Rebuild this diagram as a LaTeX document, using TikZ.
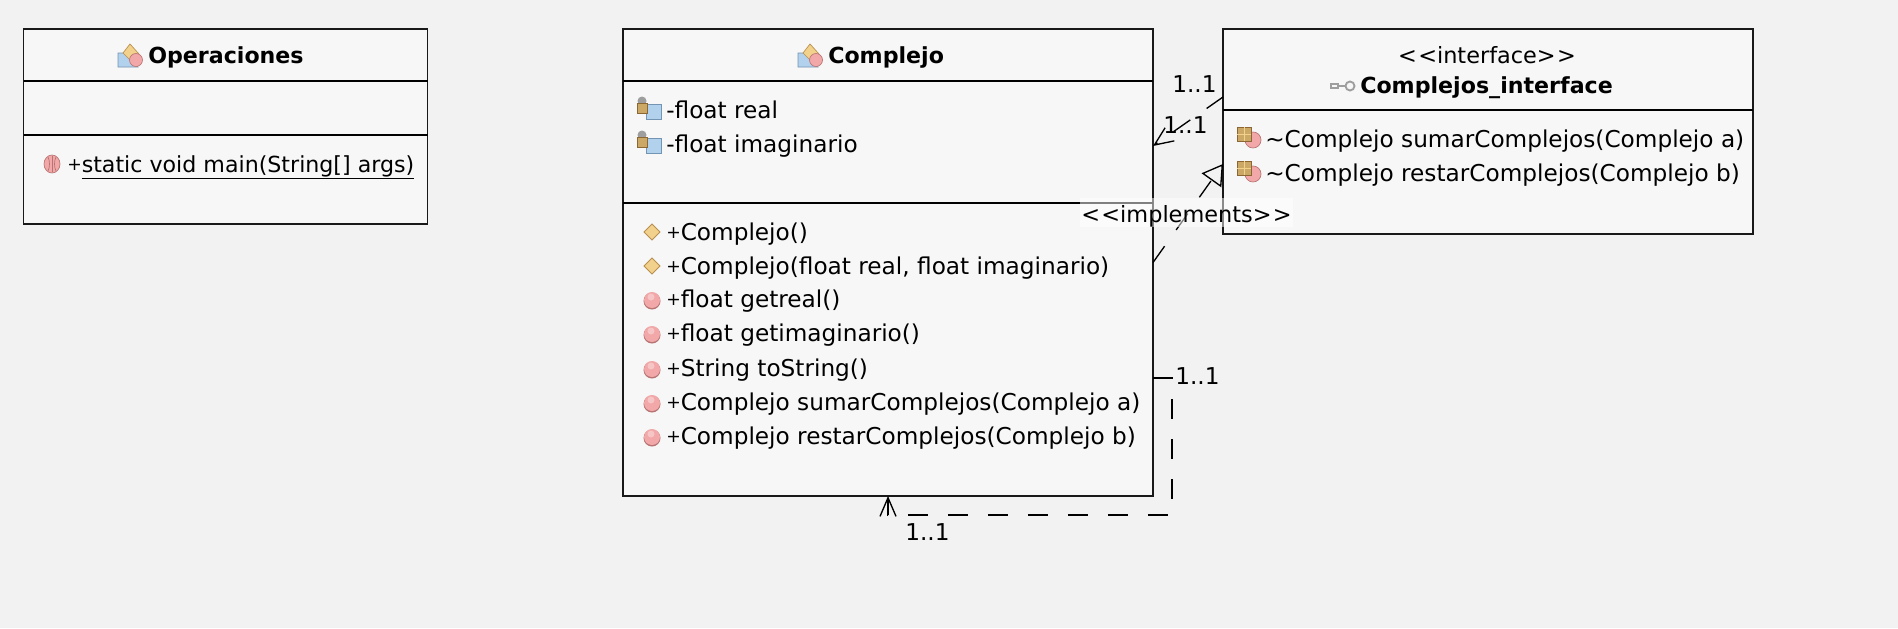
\documentclass[tikz,border=0pt]{standalone}
\usepackage{fontspec}
\setmainfont{DejaVu Sans}
\usetikzlibrary{arrows.meta}

\definecolor{pagebg}{rgb}{0.949,0.949,0.949}
\definecolor{boxbg}{rgb}{0.969,0.969,0.969}
\definecolor{boxline}{rgb}{0.1,0.1,0.1}
\definecolor{iconpink}{rgb}{0.95,0.66,0.66}
\definecolor{iconpinkd}{rgb}{0.72,0.45,0.45}
\definecolor{iconblue}{rgb}{0.70,0.82,0.93}
\definecolor{iconblued}{rgb}{0.45,0.58,0.70}
\definecolor{iconsand}{rgb}{0.95,0.82,0.55}
\definecolor{iconsandd}{rgb}{0.72,0.56,0.30}
\definecolor{icontan}{rgb}{0.80,0.66,0.40}
\definecolor{icontand}{rgb}{0.55,0.40,0.20}
\definecolor{icongray}{rgb}{0.62,0.62,0.62}

\newcommand{\plusmark}{\raisebox{1pt}{\fontsize{13}{13}\selectfont +}}

\tikzset{
  umlbox/.style={draw=boxline,fill=boxbg,line width=1.2pt,inner sep=0pt,outer sep=0pt},
  rowtext/.style={anchor=base west,inner sep=0pt,font=\fontsize{17.4}{20}\selectfont},
  titletext/.style={anchor=base west,inner sep=0pt,font=\fontsize{16.6}{20}\selectfont\bfseries},
  multlabel/.style={anchor=base west,inner sep=0pt,font=\fontsize{17.4}{20}\selectfont},
  divider/.style={line width=1.2pt,color=black},
  relation/.style={line width=1pt,color=black,dash pattern=on 15pt off 15pt},
  openhead/.style={-{Straight Barb[length=14pt,width=12pt,line width=1pt]}},
  realizehead/.style={-{Triangle[open,length=15pt,width=18pt,line width=1pt]}},
  % inside a pic y runs upwards
  methodicon/.pic={
    \fill[color=iconpinkd] (0,-1) circle (8.5);
    \fill[color=iconpink] (0,0) circle (8);
    \fill[color=white,opacity=.35] (-1,3) circle (3.5);
  },
  staticicon/.pic={
    \fill[color=iconpink,draw=iconpinkd,line width=.5pt] (0,0) ellipse (8 and 9);
    \draw[color=iconpinkd,line width=.5pt] (0,-8) -- (0,8);
    \draw[color=iconpinkd,line width=.5pt] (-4,-7) .. controls (-2,-3) and (-2,3) .. (-4,7);
    \draw[color=iconpinkd,line width=.5pt] (4,-7) .. controls (2,-3) and (2,3) .. (4,7);
  },
  ctoricon/.pic={
    \fill[color=iconsand,draw=iconsandd,line width=.6pt] (0,-8) -- (8,0) -- (0,8) -- (-8,0) -- cycle;
  },
  classicon/.pic={
    \fill[color=iconblue,draw=iconblued,line width=.5pt] (-12,3) -- (-3,3) -- (8,-11) -- (-12,-11) -- cycle;
    \fill[color=iconsand,draw=iconsandd,line width=.5pt] (-7,3) -- (0,12) -- (9,2) -- (2,-6) -- cycle;
    \fill[color=iconpink,draw=iconpinkd,line width=.5pt] (6,-4) circle (6.5);
  },
  fieldicon/.pic={
    \fill[color=iconblue,draw=iconblued,line width=.6pt] (-4,5) rectangle (11,-10);
    \fill[color=icongray] (-8,8) circle (4.5);
    \fill[color=icontan,draw=icontand,line width=.4pt] (-13,6) rectangle (-3,-4);
  },
  keyicon/.pic={
    \draw[color=icongray,line width=1.1pt] (-12,-2) rectangle (-5,2);
    \draw[color=icongray,line width=1.4pt] (-5,0) -- (2,0);
    \draw[color=icongray,line width=1.4pt,fill=boxbg] (7,0) circle (4.5);
  },
  abstracticon/.pic={
    \fill[color=iconpink,draw=iconpinkd,line width=.5pt] (6,-2) circle (8);
    \fill[color=icontan,draw=icontand,line width=.6pt] (-10,11) rectangle (4,-3);
    \draw[color=iconsand,line width=.6pt] (-10,4) -- (4,4) (-3,11) -- (-3,-3);
  },
}

\begin{document}
\begin{tikzpicture}[x=0.75pt,y=0.75pt,yscale=-1]
\useasboundingbox (0,0) rectangle (1898,628);
\fill[color=pagebg] (0,0) rectangle (1898,628);

%Class boxes
\node (operaciones) [umlbox,minimum width=303pt,minimum height=146.25pt] at (225.5,126.5) {};
\node (complejo) [umlbox,minimum width=397.5pt,minimum height=350.25pt] at (888,262.5) {};
\node (interfaz) [umlbox,minimum width=397.5pt,minimum height=153.75pt] at (1488,131.5) {};

%Compartment lines
\draw [divider] (operaciones.west |- 0,81) -- (operaciones.east |- 0,81);
\draw [divider] (operaciones.west |- 0,135) -- (operaciones.east |- 0,135);
\draw [divider] (complejo.west |- 0,81) -- (complejo.east |- 0,81);
\draw [divider] (complejo.west |- 0,203) -- (complejo.east |- 0,203);
\draw [divider] (interfaz.west |- 0,110) -- (interfaz.east |- 0,110);

% Text Node
\node (opTitle) [titletext] at (148,63) {Operaciones};
\node (opMain) [rowtext,font=\fontsize{16.6}{20}\selectfont] at (67,172) {\plusmark\underline{static void main(String[] args)}};

\node (coTitle) [titletext] at (828,63) {Complejo};
\node (coReal) [rowtext] at (666,118) {-float real};
\node (coImag) [rowtext] at (666,152) {-float imaginario};
\node (coCtorA) [rowtext] at (666,240) {\plusmark Complejo()};
\node (coCtorB) [rowtext] at (666,274) {\plusmark Complejo(float real, float imaginario)};
\node (coGetReal) [rowtext] at (666,307) {\plusmark float getreal()};
\node (coGetImag) [rowtext] at (666,341) {\plusmark float getimaginario()};
\node (coToStr) [rowtext] at (666,376) {\plusmark String toString()};
\node (coSumar) [rowtext] at (666,410) {\plusmark Complejo sumarComplejos(Complejo a)};
\node (coRestar) [rowtext] at (666,444) {\plusmark Complejo restarComplejos(Complejo b)};

\node (inStereo) [rowtext,anchor=base,font=\fontsize{16.8}{20}\selectfont] at (1487,63) {<\kern1pt<interface>\kern1pt>};
\node (inTitle) [titletext] at (1360,93) {Complejos\_interface};
\node (inSumar) [rowtext] at (1265,147) {\textasciitilde Complejo sumarComplejos(Complejo a)};
\node (inRestar) [rowtext] at (1265,181) {\textasciitilde Complejo restarComplejos(Complejo b)};

%Icons
\pic at (130,56) {classicon};
\pic at (810,56) {classicon};
\pic at (52,164) {staticicon};
\pic at (650,109) {fieldicon};
\pic at (650,143) {fieldicon};
\pic at (652,232) {ctoricon};
\pic at (652,266) {ctoricon};
\pic at (652,300) {methodicon};
\pic at (652,334) {methodicon};
\pic at (652,369) {methodicon};
\pic at (652,403) {methodicon};
\pic at (652,437) {methodicon};
\pic at (1343,86) {keyicon};
\pic at (1247,138) {abstracticon};
\pic at (1247,172) {abstracticon};

%Connectors
\draw [relation,openhead] (interfaz.west |- 0,97) -- (complejo.east |- 0,146);
\draw [relation,realizehead] (complejo.east) -- (interfaz.west |- 0,164);
\coordinate (loopA) at (1172,378);
\coordinate (loopB) at (1172,515);
\draw [relation,openhead] (complejo.east |- loopA) -- (loopA) -- (loopB) -- (complejo.south |- loopB) -- (complejo.south);

%Connector labels
\node (multTop) [multlabel] at (1172,92) {1..1};
\node (multMid) [multlabel] at (1163,133) {1..1};
\node (multSelfA) [multlabel] at (1175,384) {1..1};
\node (multSelfB) [multlabel] at (905,540) {1..1};
\node (implLabel) [fill=white,fill opacity=.5,text opacity=1,inner sep=0pt,minimum width=160pt,text height=18.25pt,text depth=3.75pt,font=\fontsize{16.8}{20}\selectfont] at (1186.5,212.5) {<\kern1pt<implements>\kern1pt>};

\end{tikzpicture}
\end{document}
